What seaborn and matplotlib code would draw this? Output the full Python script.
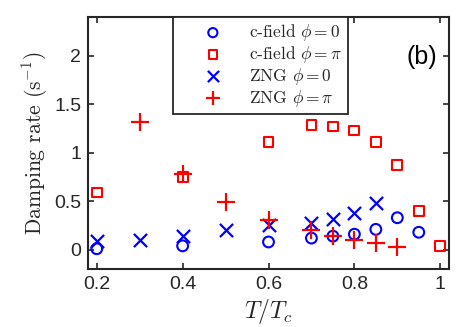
import matplotlib
matplotlib.use("Agg")
import matplotlib.pyplot as plt
import seaborn as sns

# data
x_cf0 = [0.2, 0.4, 0.6, 0.7, 0.75, 0.8, 0.85, 0.9, 0.95]
y_cf0 = [0.01, 0.04, 0.08, 0.12, 0.14, 0.16, 0.21, 0.33, 0.18]

x_cfpi = [0.2, 0.4, 0.6, 0.7, 0.75, 0.8, 0.85, 0.9, 0.95, 1.0]
y_cfpi = [0.59, 0.75, 1.11, 1.29, 1.27, 1.23, 1.11, 0.87, 0.40, 0.04]

x_zng0 = [0.2, 0.3, 0.4, 0.5, 0.6, 0.7, 0.75, 0.8, 0.85]
y_zng0 = [0.09, 0.10, 0.14, 0.20, 0.25, 0.28, 0.32, 0.38, 0.48]

x_zngpi = [0.3, 0.4, 0.5, 0.6, 0.7, 0.75, 0.8, 0.85, 0.9]
y_zngpi = [1.32, 0.78, 0.49, 0.31, 0.20, 0.14, 0.10, 0.07, 0.03]

labels = [r"c-field $\phi = 0$", r"c-field $\phi = \pi$",
          r"ZNG $\phi = 0$", r"ZNG $\phi = \pi$"]

sns.set_style("ticks")
plt.rcParams["font.family"] = ["Liberation Sans", "DejaVu Sans"]
plt.rcParams["mathtext.fontset"] = "cm"

fig = plt.figure(figsize=(4.69, 3.27), dpi=100)
ax = fig.add_axes([0.188, 0.177, 0.769, 0.771])

# blue circles / red squares (open), blue x / red +
sns.scatterplot(x=x_cf0, y=y_cf0, ax=ax, marker="o", s=60, fc="none",
                ec="blue", linewidth=1.5, label=labels[0])
sns.scatterplot(x=x_cfpi, y=y_cfpi, ax=ax, marker="s", s=50, fc="none",
                ec="red", linewidth=1.5, label=labels[1])
sns.scatterplot(x=x_zng0, y=y_zng0, ax=ax, marker="x", s=90, color="blue",
                linewidth=1.6, label=labels[2])
sns.scatterplot(x=x_zngpi, y=y_zngpi, ax=ax, marker="+", s=160, color="red",
                linewidth=1.6, label=labels[3])

ax.set_xlim(0.18, 1.02)
ax.set_ylim(-0.2, 2.4)
ax.set_xticks([0.2, 0.4, 0.6, 0.8, 1.0])
ax.set_xticklabels(["0.2", "0.4", "0.6", "0.8", "1"])
ax.set_yticks([0, 0.5, 1, 1.5, 2])
ax.set_yticklabels(["0", "0.5", "1", "1.5", "2"])

for s in ax.spines.values():
    s.set_visible(True)
    s.set_linewidth(1.5)
    s.set_color("#262626")
ax.tick_params(direction="in", length=4, width=1.2, top=True, right=True,
               labelsize=14, colors="#262626", pad=5)

ax.set_xlabel(r"$T/T_c$", fontsize=17, labelpad=3)
ax.set_ylabel(r"Damping rate (s$^{-1}$)", fontsize=15.5, family="cmr10",
              labelpad=3)

ax.text(0.925, 0.84, "(b)", transform=ax.transAxes, fontsize=18,
        ha="center", va="center", color="black")

leg = ax.legend(loc="upper left", bbox_to_anchor=(0.235, 1.0),
                prop={"family": "cmr10", "size": 12.5}, frameon=True,
                fancybox=False, edgecolor="#262626", framealpha=1,
                handlelength=4.0, handletextpad=0.1, borderpad=0.3,
                labelspacing=0.05, borderaxespad=0, markerscale=0.85)
leg.get_frame().set_linewidth(1.3)

fig.savefig("out.png", dpi=100)
